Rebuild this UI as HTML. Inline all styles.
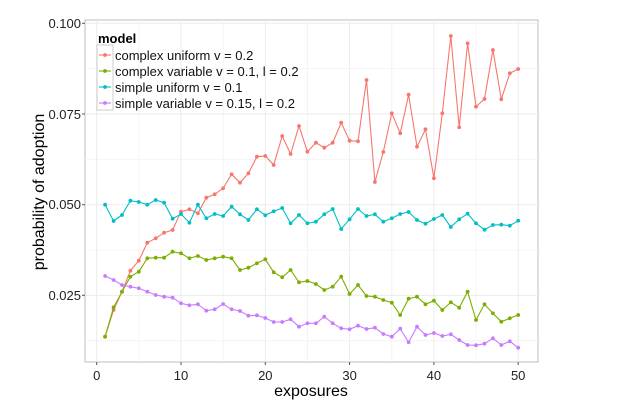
<!DOCTYPE html>
<html><head><meta charset="utf-8"><style>
html,body{margin:0;padding:0;background:#fff;}
svg{display:block;font-family:"Liberation Sans",sans-serif;}
</style></head><body>
<svg id="s" width="630" height="415" viewBox="0 0 630 415" xmlns="http://www.w3.org/2000/svg">
<rect x="85" y="20" width="453" height="342" fill="#fff" stroke="#bdbdbd" stroke-width="1"/>
<g id="grid"></g>
<g id="data"></g>
<g font-size="13" fill="#222" text-anchor="end">
<text x="81" y="28">0.100</text>
<text x="81" y="119">0.075</text>
<text x="81" y="209">0.050</text>
<text x="81" y="300">0.025</text>
</g>
<g stroke="#555" stroke-width="1">
<line x1="82" x2="85" y1="23.3" y2="23.3"/><line x1="82" x2="85" y1="114" y2="114"/>
<line x1="82" x2="85" y1="204.7" y2="204.7"/><line x1="82" x2="85" y1="295.3" y2="295.3"/>
<line x1="96.7" x2="96.7" y1="362" y2="365"/><line x1="181" x2="181" y1="362" y2="365"/>
<line x1="265.3" x2="265.3" y1="362" y2="365"/><line x1="349.6" x2="349.6" y1="362" y2="365"/>
<line x1="433.9" x2="433.9" y1="362" y2="365"/><line x1="518.2" x2="518.2" y1="362" y2="365"/>
</g>
<g font-size="13" fill="#222" text-anchor="middle">
<text x="96.7" y="380">0</text><text x="181" y="380">10</text><text x="265.3" y="380">20</text>
<text x="349.6" y="380">30</text><text x="433.9" y="380">40</text><text x="518.2" y="380">50</text>
</g>
<text x="311" y="396" font-size="16" text-anchor="middle" fill="#000">exposures</text>
<text transform="translate(44,192) rotate(-90)" font-size="16" text-anchor="middle" fill="#000">probability of adoption</text>
<rect x="97" y="45" width="16" height="65" fill="#fff" stroke="#ccc"/>
<text x="98" y="43" font-size="13" font-weight="bold" fill="#000">model</text>
<g font-size="13" fill="#111">
<text x="115" y="60">complex uniform v = 0.2</text>
<text x="115" y="76">complex variable v = 0.1, l = 0.2</text>
<text x="115" y="92">simple uniform v = 0.1</text>
<text x="115" y="108">simple variable v = 0.15, l = 0.2</text>
</g>
<g id="leg"></g>
</svg>
<script>
var NS="http://www.w3.org/2000/svg";
function el(p,t,a){var e=document.createElementNS(NS,t);for(var k in a)e.setAttribute(k,a[k]);p.appendChild(e);return e;}
var g=document.getElementById('grid');
[0.0125,0.0375,0.0625,0.0875].forEach(function(v){var y=23.3+(0.1-v)/0.025*90.7;el(g,'line',{x1:85,x2:538,y1:y,y2:y,stroke:'#f4f4f4'});});
[5,15,25,35,45].forEach(function(v){var x=96.7+v*8.43;el(g,'line',{x1:x,x2:x,y1:20,y2:362,stroke:'#f4f4f4'});});
[0.025,0.05,0.075,0.1].forEach(function(v){var y=23.3+(0.1-v)/0.025*90.7;el(g,'line',{x1:85,x2:538,y1:y,y2:y,stroke:'#ebebeb'});});
[0,10,20,30,40,50].forEach(function(v){var x=96.7+v*8.43;el(g,'line',{x1:x,x2:x,y1:20,y2:362,stroke:'#ebebeb'});});
var S=[
['#f8766d',[1010,930,875,812,782,728,715,698,690,635,628,640,593,583,565,523,548,520,470,468,495,408,462,378,455,428,443,428,368,422,424,240,546,456,340,400,284,440,388,535,340,108,382,130,320,297,150,298,220,207]],
['#7cae00',[1010,922,875,830,815,775,773,773,755,760,775,768,780,775,770,775,810,803,790,778,817,832,810,847,843,852,870,860,830,882,855,888,890,900,908,945,896,890,913,902,930,907,923,875,960,913,940,965,955,945]],
['#00bfc4',[614,663,645,602,606,614,600,608,656,642,668,614,655,642,648,620,643,660,628,646,634,624,670,645,670,665,643,627,687,658,627,648,643,665,655,642,636,660,671,657,645,681,658,641,670,689,675,674,677,662]],
['#c77cff',[828,840,855,860,865,875,885,890,893,910,916,913,932,928,912,928,933,947,946,954,966,966,958,980,970,970,950,970,985,988,977,987,983,1002,1010,986,1027,980,1005,999,1008,1003,1020,1035,1036,1031,1015,1035,1024,1043]]
];
var d=document.getElementById('data'),L=document.getElementById('leg');
S.forEach(function(s,i){var pts=s[1].map(function(v,j){return [(96.7+(j+1)*8.43).toFixed(1),(v/3).toFixed(1)];});
el(d,'polyline',{points:pts.map(function(p){return p.join(',');}).join(' '),fill:'none',stroke:s[0],'stroke-width':1.1});
pts.forEach(function(p){el(d,'circle',{cx:p[0],cy:p[1],r:1.9,fill:s[0]});});
var y=55+i*16;el(L,'line',{x1:99,x2:111,y1:y,y2:y,stroke:s[0],'stroke-width':1.1});el(L,'circle',{cx:105,cy:y,r:1.9,fill:s[0]});});
</script>
</body></html>
